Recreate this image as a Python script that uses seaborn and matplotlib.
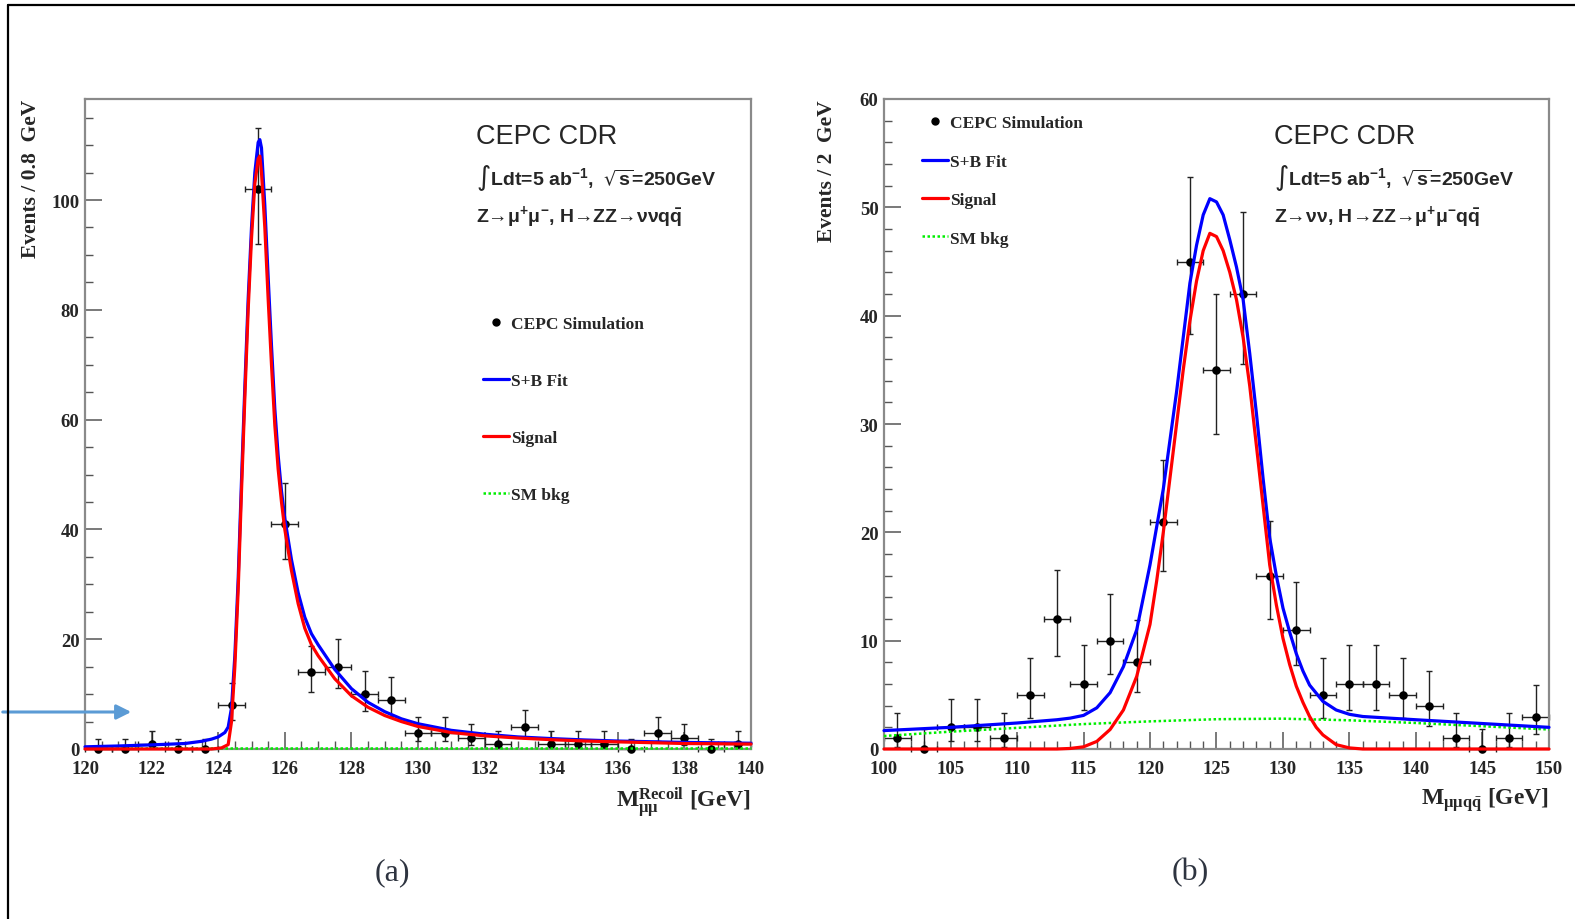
import math
import numpy as np
import matplotlib.pyplot as plt
import seaborn as sns
from matplotlib.lines import Line2D
from matplotlib.patches import FancyArrowPatch
from matplotlib.ticker import MultipleLocator

#%% 0) Dati

# (a) recoil mass, bin 0.8 GeV
a_centers = [120.4, 121.2, 122.0, 122.8, 123.6, 124.4, 125.2, 126.0, 126.8, 127.6,
             128.4, 129.2, 130.0, 130.8, 131.6, 132.4, 133.2, 134.0, 134.8, 135.6,
             136.4, 137.2, 138.0, 138.8, 139.6]
a_counts = [0, 0, 1, 0, 0, 8, 102, 41, 14, 15,
            10, 9, 3, 3, 2, 1, 4, 1, 1, 1,
            0, 3, 2, 0, 1]

a_fit_x = [120.0, 121.0, 122.0, 123.0, 123.5, 123.8, 124.0, 124.2, 124.3, 124.4,
           124.5, 124.6, 124.7, 124.8, 124.9, 125.0, 125.1, 125.2, 125.25, 125.3,
           125.4, 125.5, 125.6, 125.7, 125.8, 125.9, 126.0, 126.2, 126.4, 126.6,
           126.8, 127.0, 127.5, 128.0, 128.5, 129.0, 129.5, 130.0, 131.0, 132.0,
           133.0, 134.0, 135.0, 136.0, 138.0, 140.0]
a_fit_y = [0.4, 0.55, 0.75, 1.0, 1.4, 1.8, 2.2, 3.0, 4.0, 7.5,
           17, 31, 49, 66, 82, 95, 105, 110.5, 111, 109.5,
           99, 86, 73.5, 62, 53.5, 47, 42, 34.5, 28.5, 24,
           21, 19, 14.5, 11, 8.5, 6.8, 5.5, 4.6, 3.4, 2.7,
           2.2, 1.9, 1.65, 1.45, 1.2, 1.05]

a_sig_x = [120.0, 123.8, 124.1, 124.3, 124.4, 124.5, 124.6, 124.7, 124.8, 124.9,
           125.0, 125.1, 125.2, 125.25, 125.3, 125.4, 125.5, 125.6, 125.7, 125.8,
           125.9, 126.0, 126.2, 126.4, 126.6, 126.8, 127.0, 127.5, 128.0, 128.5,
           129.0, 129.5, 130.0, 131.0, 132.0, 133.0, 134.0, 135.0, 136.0, 138.0,
           140.0]
a_sig_y = [0.0, 0.0, 0.2, 0.8, 5, 15, 29, 47, 64, 80,
           93, 103, 107.5, 108, 105, 95, 82, 70, 59, 51,
           45, 40, 32.5, 26.5, 22, 19, 17, 12.8, 9.7, 7.6,
           6.1, 5.0, 4.1, 3.0, 2.4, 2.0, 1.7, 1.45, 1.3, 1.0,
           0.9]

a_bkg_x = [120.0, 130.0, 140.0]
a_bkg_y = [0.15, 0.15, 0.15]

# (b) mu mu q qbar invariant mass, bin 2 GeV
b_centers = [101, 103, 105, 107, 109, 111, 113, 115, 117, 119,
             121, 123, 125, 127, 129, 131, 133, 135, 137, 139,
             141, 143, 145, 147, 149]
b_counts = [1, 0, 2, 2, 1, 5, 12, 6, 10, 8,
            21, 45, 35, 42, 16, 11, 5, 6, 6, 5,
            4, 1, 0, 1, 3]

b_fit_x = [100, 105, 110, 113, 114, 115, 116, 117, 118, 119,
           120, 121, 122, 123, 123.5, 124, 124.5, 125, 125.5, 126,
           126.5, 127, 127.5, 128, 128.5, 129, 129.5, 130, 130.5, 131,
           131.5, 132, 133, 134, 135, 136, 138, 140, 145, 150]
b_fit_y = [1.7, 2.0, 2.4, 2.7, 2.85, 3.1, 3.8, 5.2, 7.6, 11,
           17, 24, 33, 43, 46.5, 49.3, 50.8, 50.5, 49.3, 47,
           44.5, 41.5, 36.5, 31, 25, 19.5, 16, 13, 10.8, 8.8,
           7.2, 5.9, 4.4, 3.6, 3.2, 3.0, 2.85, 2.7, 2.35, 2.0]

b_sig_x = [100, 113, 114, 115, 116, 117, 118, 119, 120, 120.5,
           121, 121.5, 122, 122.5, 123, 123.5, 124, 124.5, 125, 125.5,
           126, 126.5, 127, 127.5, 128, 128.5, 129, 129.5, 130, 130.5,
           131, 131.5, 132, 132.5, 133, 134, 135, 136, 150]
b_sig_y = [0, 0, 0.05, 0.2, 0.7, 1.8, 3.6, 6.7, 11.5, 15.5,
           20, 25, 30, 35, 39.5, 43.2, 46, 47.6, 47.3, 46,
           44, 41.5, 38, 33.5, 28, 22.5, 17, 13.3, 10.2, 7.8,
           5.8, 4.3, 3.0, 2.0, 1.3, 0.4, 0.1, 0, 0]

b_bkg_x = [100, 105, 110, 115, 120, 125, 130, 135, 140, 145, 150]
b_bkg_y = [1.2, 1.6, 1.95, 2.3, 2.55, 2.75, 2.8, 2.65, 2.4, 2.1, 1.8]

#%% 1) Funzioni

def poisson_cdf(k, mu):
    if k < 0:
        return 0.0
    term = math.exp(-mu)
    s = term
    for i in range(1, k + 1):
        term *= mu / i
        s += term
    return s

def bisect(k, target):
    # cdf decresce con mu
    lo, hi = 0.0, k + 10 * math.sqrt(k + 1) + 10
    for _ in range(80):
        mid = 0.5 * (lo + hi)
        if poisson_cdf(k, mid) > target:
            lo = mid
        else:
            hi = mid
    return 0.5 * (lo + hi)

def poisson_errors(counts):
    # intervallo centrale 68% come RooFit
    low, up = [], []
    for n in counts:
        mu_up = bisect(n, 0.1587)
        mu_lo = 0.0 if n == 0 else bisect(n - 1, 0.8413)
        low.append(n - mu_lo)
        up.append(mu_up - n)
    return low, up

def draw_panel(ax, centers, counts, half_bin, fit_x, fit_y, sig_x, sig_y, bkg_x, bkg_y):
    lo, up = poisson_errors(counts)
    ax.errorbar(centers, counts, xerr=half_bin, yerr=[lo, up], fmt="none",
                ecolor="#222222", elinewidth=1.0, capsize=2, capthick=1.0,
                zorder=2, clip_on=False)
    sns.scatterplot(x=centers, y=counts, ax=ax, color="black", s=38,
                    edgecolor="black", linewidth=0, zorder=3, clip_on=False)
    sns.lineplot(x=bkg_x, y=bkg_y, ax=ax, color="#00ee00", lw=1.8,
                 linestyle=(0, (1, 1)), zorder=4, clip_on=False)
    sns.lineplot(x=fit_x, y=fit_y, ax=ax, color="#0000ff", lw=2.3, zorder=5,
                 clip_on=False)
    sns.lineplot(x=sig_x, y=sig_y, ax=ax, color="#ff0000", lw=2.3, zorder=6,
                 clip_on=False)

def style_axes(ax):
    for sp in ax.spines.values():
        sp.set_visible(True)
        sp.set_color("#8a8a8a")
        sp.set_linewidth(1.6)
    ax.tick_params(axis="both", which="major", direction="in", length=12,
                   width=1.1, color="#555555", labelsize=13.5, pad=4)
    ax.tick_params(axis="x", which="major", pad=8)
    ax.tick_params(axis="both", which="minor", direction="in", length=6,
                   width=1.0, color="#555555")
    ax.tick_params(axis="x", which="both", top=False)
    ax.tick_params(axis="y", which="both", right=False)
    for lab in ax.get_xticklabels() + ax.get_yticklabels():
        lab.set_fontweight("bold")

def info_text(ax, line3):
    sans = ["Liberation Sans", "DejaVu Sans"]
    ax.text(0.587, 0.943, "CEPC CDR", transform=ax.transAxes, fontsize=19.5,
            family=sans, va="center", ha="left")
    ax.text(0.587, 0.880, r"$\int$Ldt=5 ab$^{-1}$,  $\sqrt{s}$=250GeV", transform=ax.transAxes,
            fontsize=14, family=sans, fontweight="bold", va="center", ha="left")
    ax.text(0.587, 0.820, line3, transform=ax.transAxes, fontsize=14,
            family=sans, fontweight="bold", va="center", ha="left")

def legend_panel(ax, anchor, spacing):
    handles = [Line2D([], [], marker="o", color="black", markersize=5, linestyle="none"),
               Line2D([], [], color="#0000ff", lw=2.3),
               Line2D([], [], color="#ff0000", lw=2.3),
               Line2D([], [], color="#00ee00", lw=1.8, linestyle=(0, (1, 1)))]
    labels = ["CEPC Simulation", "S+B Fit", "Signal", "SM bkg"]
    ax.legend(handles, labels, loc="upper left", bbox_to_anchor=anchor, frameon=False,
              prop={"family": "Liberation Serif", "weight": "bold", "size": 12.5},
              handlelength=1.5, handletextpad=0.12, labelspacing=spacing,
              borderpad=0, borderaxespad=0)

#%% 2) Figura

sns.set_style("ticks")
plt.rcParams["font.family"] = ["Liberation Serif", "DejaVu Sans"]
plt.rcParams["mathtext.default"] = "regular"
plt.rcParams["mathtext.fontset"] = "dejavusans"

fig = plt.figure(figsize=(15.75, 9.2), dpi=100)
fig.patch.set_facecolor("white")

ax1 = fig.add_axes([85 / 1575, 170 / 920, 666 / 1575, 650 / 920])
ax2 = fig.add_axes([884 / 1575, 170 / 920, 665 / 1575, 650 / 920])

# (a)
draw_panel(ax1, a_centers, a_counts, 0.4, a_fit_x, a_fit_y, a_sig_x, a_sig_y, a_bkg_x, a_bkg_y)
ax1.set_xlim(120, 140)
ax1.set_ylim(0, 118.4)
ax1.xaxis.set_major_locator(MultipleLocator(2))
ax1.xaxis.set_minor_locator(MultipleLocator(0.5))
ax1.yaxis.set_major_locator(MultipleLocator(20))
ax1.yaxis.set_minor_locator(MultipleLocator(5))
style_axes(ax1)
ax1.set_ylabel("Events / 0.8  GeV", fontsize=15.5, fontweight="bold", loc="top")
ax1.yaxis.set_label_coords(-0.066, 1.0)
ax1.set_xlabel(r"M$_{\mu\mu}^{Recoil}$ [GeV]", fontsize=17, fontweight="bold", loc="right")
ax1.xaxis.set_label_coords(1.0, -0.055)
info_text(ax1, "Z→μ$^{+}$μ$^{-}$, H→ZZ→ννq$\\bar{q}$")
legend_panel(ax1, (0.598, 0.667), 2.36)

# (b)
draw_panel(ax2, b_centers, b_counts, 1.0, b_fit_x, b_fit_y, b_sig_x, b_sig_y, b_bkg_x, b_bkg_y)
ax2.set_xlim(100, 150)
ax2.set_ylim(0, 60)
ax2.xaxis.set_major_locator(MultipleLocator(5))
ax2.xaxis.set_minor_locator(MultipleLocator(1))
ax2.yaxis.set_major_locator(MultipleLocator(10))
ax2.yaxis.set_minor_locator(MultipleLocator(2))
style_axes(ax2)
ax2.set_ylabel("Events / 2  GeV", fontsize=15.5, fontweight="bold", loc="top")
ax2.yaxis.set_label_coords(-0.071, 1.0)
ax2.set_xlabel(r"M$_{\mu\mu q\bar{q}}$ [GeV]", fontsize=17, fontweight="bold", loc="right")
ax2.xaxis.set_label_coords(1.0, -0.055)
info_text(ax2, "Z→νν, H→ZZ→μ$^{+}$μ$^{-}$q$\\bar{q}$")
legend_panel(ax2, (0.057, 0.975), 1.28)

# etichette (a) (b)
fig.text(392 / 1575, 1 - 873 / 920, "(a)", fontsize=23, color="#2e3440", ha="center", va="center")
fig.text(1190 / 1575, 1 - 873 / 920, "(b)", fontsize=23, color="#2e3440", ha="center", va="center")

# cornice e freccia
fig.add_artist(Line2D([8 / 1575, 1.0], [1 - 6 / 920, 1 - 6 / 920], transform=fig.transFigure,
                      color="black", lw=1.6))
fig.add_artist(Line2D([8 / 1575, 8 / 1575], [0.0, 1 - 6 / 920], transform=fig.transFigure,
                      color="black", lw=1.6))
fig.add_artist(FancyArrowPatch((0.0, 1 - 713 / 920), (134 / 1575, 1 - 713 / 920),
                               transform=fig.transFigure, arrowstyle="-|>", mutation_scale=22,
                               color="#5b9bd5", lw=2.2))

fig.savefig("out.png", dpi=100)
